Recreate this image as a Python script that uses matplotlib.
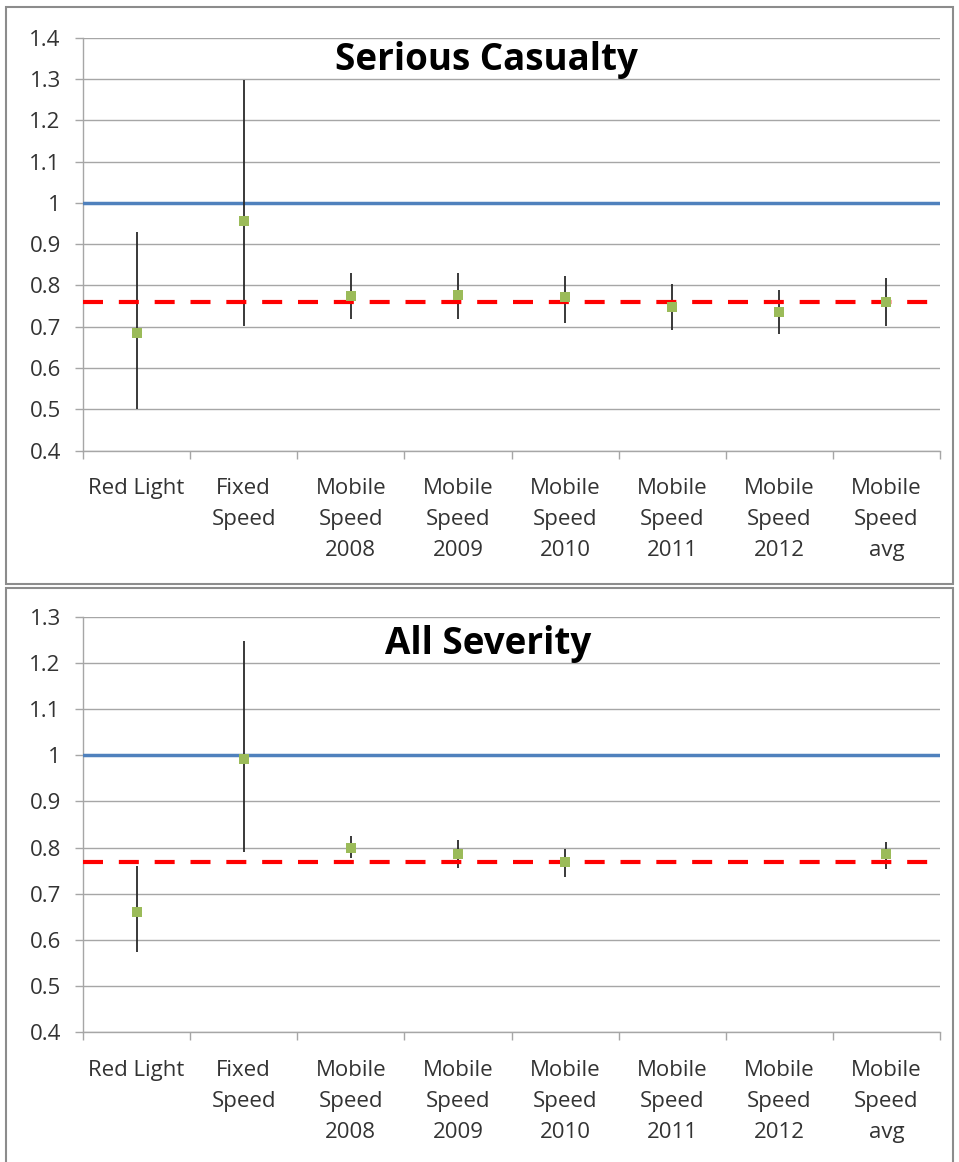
import numpy as np
import matplotlib
matplotlib.use("Agg")
import matplotlib.pyplot as plt
from matplotlib.patches import Rectangle

plt.rcParams['font.family'] = ['Open Sans', 'DejaVu Sans']

categories = ["Red Light", "Fixed\nSpeed", "Mobile\nSpeed\n2008", "Mobile\nSpeed\n2009",
              "Mobile\nSpeed\n2010", "Mobile\nSpeed\n2011", "Mobile\nSpeed\n2012", "Mobile\nSpeed\navg"]

# Serious Casualty
sc_value = [0.684, 0.956, 0.775, 0.778, 0.773, 0.747, 0.736, 0.759]
sc_upper = [0.930, 1.297, 0.831, 0.831, 0.823, 0.803, 0.790, 0.817]
sc_lower = [0.500, 0.702, 0.719, 0.719, 0.710, 0.692, 0.682, 0.702]
sc_ref = 0.761
sc_ticks = [0.4, 0.5, 0.6, 0.7, 0.8, 0.9, 1.0, 1.1, 1.2, 1.3, 1.4]
sc_ticklabels = ["0.4", "0.5", "0.6", "0.7", "0.8", "0.9", "1", "1.1", "1.2", "1.3", "1.4"]

# All Severity
as_value = [0.661, 0.993, 0.798, 0.787, 0.768, np.nan, np.nan, 0.785]
as_upper = [0.759, 1.249, 0.825, 0.817, 0.797, np.nan, np.nan, 0.813]
as_lower = [0.574, 0.791, 0.777, 0.756, 0.737, np.nan, np.nan, 0.754]
as_ref = 0.769
as_ticks = [0.4, 0.5, 0.6, 0.7, 0.8, 0.9, 1.0, 1.1, 1.2, 1.3]
as_ticklabels = ["0.4", "0.5", "0.6", "0.7", "0.8", "0.9", "1", "1.1", "1.2", "1.3"]

baseline_value = 1.0

W, H = 959, 1162
fig = plt.figure(figsize=(W / 100, H / 100), dpi=100)

# panel borders
for (x0, y0, x1, y1) in [(6, 7, 953, 584), (6, 588, 953, 1166)]:
    fig.patches.append(Rectangle((x0 / W, 1 - y1 / H), (x1 - x0) / W, (y1 - y0) / H,
                                 transform=fig.transFigure, fill=False,
                                 edgecolor="#8c8c8c", linewidth=1.5))

grid_c = "#a6a6a6"
text_c = "#333333"


def draw(ax, vals, up, lo, ref, ticks, ticklabels, ylim):
    x = np.arange(len(categories))
    ax.set_xlim(-0.5, len(categories) - 0.5)
    ax.set_ylim(*ylim)
    ax.set_yticks(ticks)
    ax.set_yticklabels(ticklabels)
    ax.yaxis.grid(True, color=grid_c, linewidth=1.0)
    ax.set_axisbelow(True)
    ax.set_xticks(x)
    ax.set_xticklabels(categories, linespacing=1.62, va="top")
    ax.set_xticks(np.arange(len(categories) + 1) - 0.5, minor=True)
    ax.tick_params(axis="x", which="major", length=0, pad=20, labelsize=16, labelcolor=text_c)
    ax.tick_params(axis="x", which="minor", length=6, color=grid_c, width=1.0)
    ax.tick_params(axis="y", length=6, color=grid_c, width=1.0, pad=10, labelsize=16, labelcolor=text_c)
    for s in ["top", "right"]:
        ax.spines[s].set_visible(False)
    for s in ["left", "bottom"]:
        ax.spines[s].set_color(grid_c)
        ax.spines[s].set_linewidth(1.0)
    ax.axhline(baseline_value, color="#4f81bd", linewidth=2.5, zorder=3)
    v = np.array(vals); u = np.array(up); l = np.array(lo)
    ax.vlines(x, l, u, color="#2a2a2a", linewidth=1.3, zorder=4)
    ax.axhline(ref, color="#ff0000", linewidth=3, linestyle=(0, (4.8, 3.8)), zorder=5)
    ax.plot(x, v, linestyle="none", marker="s", markersize=7.5, color="#9bbb59",
            markeredgewidth=0, zorder=6)


ax1 = fig.add_axes([83 / W, 1 - 450.6 / H, (940 - 83) / W, (450.6 - 37.7) / H])
draw(ax1, sc_value, sc_upper, sc_lower, sc_ref, sc_ticks, sc_ticklabels, (0.4, 1.4))
ax2 = fig.add_axes([83 / W, 1 - 1032 / H, (940 - 83) / W, (1032 - 617) / H])
draw(ax2, as_value, as_upper, as_lower, as_ref, as_ticks, as_ticklabels, (0.4, 1.3))

fig.text(486 / W, 1 - 70 / H, "Serious Casualty", ha="center", va="baseline",
         fontsize=26.5, fontweight="bold", color="black")
fig.text(488 / W, 1 - 654 / H, "All Severity", ha="center", va="baseline",
         fontsize=26.5, fontweight="bold", color="black")

fig.savefig("out.png", dpi=100)
